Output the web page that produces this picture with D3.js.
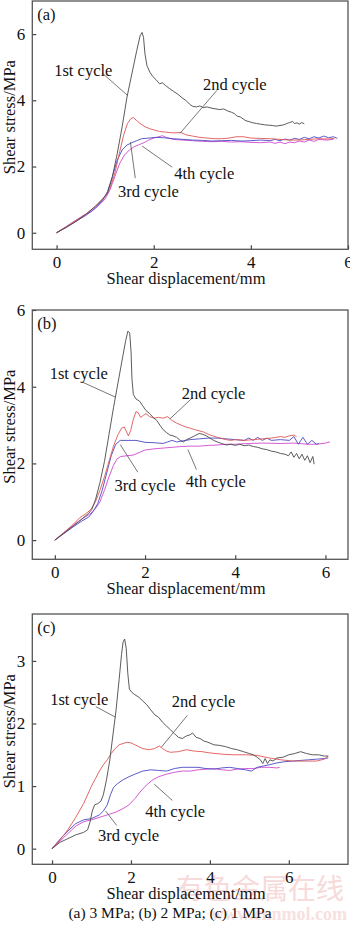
<!DOCTYPE html>
<html lang="en">
<head>
<meta charset="utf-8">
<title>Shear stress vs shear displacement</title>
<script src="https://cdn.jsdelivr.net/npm/d3@7"></script>
<style>
  body { margin: 0; background: #fff; }
  svg text { font-family: "Liberation Serif", "Times New Roman", serif; fill: #111; }
</style>
</head>
<body>
<script>
// ---- data: [displacement mm, stress MPa] ----
var cycleNames = ["1st cycle", "2nd cycle", "3rd cycle", "4th cycle"];
var cycleColors = ["#4a4a4a", "#e05555", "#4848c4", "#d048d0"];

// (a) 3 MPa
var a1 = [[0,0],[0.2,0.16],[0.4,0.34],[0.6,0.55],[0.8,0.8],[0.95,1.02],[1.05,1.2],[1.15,1.7],[1.25,2.4],[1.35,3.2],[1.45,4.1],[1.55,4.8],[1.65,5.5],[1.72,5.95],[1.76,6.05],[1.79,5.9],[1.82,5.4],[1.86,5.05],[1.92,4.85],[1.98,4.72],[2.05,4.62],[2.12,4.5],[2.18,4.53],[2.24,4.45],[2.32,4.36],[2.4,4.28],[2.5,4.18],[2.58,4.08],[2.66,4.0],[2.74,3.88],[2.8,3.82],[2.88,3.8],[2.95,3.83],[3.02,3.78],[3.1,3.8],[3.2,3.76],[3.28,3.74],[3.36,3.72],[3.44,3.74],[3.52,3.68],[3.6,3.64],[3.66,3.6],[3.72,3.52],[3.78,3.5],[3.84,3.44],[3.9,3.38],[3.96,3.36],[4.04,3.32],[4.12,3.3],[4.2,3.28],[4.28,3.26],[4.36,3.25],[4.44,3.24],[4.52,3.22],[4.6,3.24],[4.68,3.26],[4.74,3.3],[4.8,3.33],[4.86,3.36],[4.9,3.3],[4.95,3.32],[5.0,3.28],[5.05,3.33],[5.1,3.29]];
var a2 = [[0,0],[0.2,0.18],[0.4,0.37],[0.6,0.56],[0.8,0.8],[1.0,1.1],[1.1,1.35],[1.2,1.8],[1.3,2.45],[1.38,2.95],[1.46,3.3],[1.53,3.45],[1.58,3.48],[1.64,3.4],[1.72,3.3],[1.82,3.2],[1.92,3.14],[2.02,3.1],[2.12,3.06],[2.24,3.04],[2.36,3.02],[2.48,3.02],[2.56,3.03],[2.66,2.96],[2.8,2.92],[2.95,2.88],[3.1,2.86],[3.25,2.84],[3.4,2.84],[3.55,2.86],[3.7,2.9],[3.85,2.9],[4.0,2.86],[4.2,2.85],[4.4,2.84],[4.6,2.82],[4.8,2.8],[5.0,2.8],[5.2,2.82],[5.4,2.84],[5.6,2.83],[5.72,2.85]];
var a3 = [[0,0],[0.2,0.17],[0.4,0.35],[0.6,0.52],[0.8,0.75],[0.95,0.98],[1.05,1.25],[1.15,1.7],[1.25,2.2],[1.35,2.5],[1.45,2.65],[1.55,2.72],[1.65,2.78],[1.75,2.84],[1.9,2.86],[2.05,2.88],[2.2,2.87],[2.4,2.84],[2.6,2.82],[2.8,2.8],[3.0,2.79],[3.2,2.77],[3.4,2.78],[3.6,2.79],[3.8,2.77],[4.0,2.78],[4.2,2.8],[4.4,2.78],[4.5,2.82],[4.6,2.78],[4.7,2.83],[4.8,2.8],[4.9,2.85],[5.0,2.82],[5.1,2.88],[5.2,2.84],[5.3,2.9],[5.4,2.86],[5.5,2.92],[5.6,2.87],[5.7,2.9],[5.78,2.85]];
var a4 = [[0,0],[0.2,0.19],[0.4,0.38],[0.55,0.52],[0.7,0.62],[0.85,0.8],[1.0,1.02],[1.1,1.3],[1.2,1.7],[1.3,2.1],[1.4,2.35],[1.5,2.5],[1.6,2.6],[1.7,2.66],[1.8,2.72],[1.9,2.8],[2.0,2.86],[2.1,2.9],[2.18,2.93],[2.26,2.88],[2.4,2.82],[2.6,2.8],[2.8,2.78],[3.0,2.76],[3.2,2.75],[3.4,2.76],[3.6,2.74],[3.8,2.75],[4.0,2.73],[4.2,2.72],[4.4,2.74],[4.5,2.7],[4.6,2.74],[4.7,2.69],[4.8,2.74],[4.9,2.72],[5.0,2.77],[5.1,2.74],[5.2,2.8],[5.3,2.76],[5.4,2.82],[5.55,2.8],[5.7,2.82]];

// (b) 2 MPa
var b1 = [[0,0],[0.2,0.18],[0.4,0.36],[0.6,0.55],[0.75,0.7],[0.82,0.8],[0.9,1.05],[1.0,1.5],[1.1,2.05],[1.2,2.75],[1.3,3.45],[1.4,4.1],[1.5,4.75],[1.57,5.2],[1.62,5.45],[1.66,5.4],[1.69,4.9],[1.71,4.2],[1.74,3.8],[1.8,3.68],[1.88,3.62],[1.95,3.5],[2.02,3.38],[2.1,3.3],[2.18,3.2],[2.26,3.12],[2.34,2.98],[2.4,2.88],[2.48,2.8],[2.55,2.74],[2.62,2.72],[2.7,2.68],[2.78,2.6],[2.85,2.56],[2.92,2.62],[3.0,2.66],[3.1,2.72],[3.2,2.78],[3.28,2.76],[3.36,2.72],[3.44,2.66],[3.52,2.6],[3.6,2.56],[3.7,2.52],[3.8,2.48],[3.9,2.5],[4.0,2.47],[4.1,2.5],[4.2,2.46],[4.3,2.48],[4.4,2.44],[4.5,2.42],[4.6,2.38],[4.7,2.36],[4.8,2.32],[4.9,2.3],[5.0,2.26],[5.1,2.24],[5.18,2.2],[5.24,2.3],[5.3,2.16],[5.36,2.26],[5.42,2.12],[5.48,2.24],[5.54,2.08],[5.6,2.2],[5.66,2.02],[5.72,2.18],[5.75,1.98]];
var b2 = [[0,0],[0.2,0.2],[0.4,0.4],[0.55,0.58],[0.7,0.7],[0.8,0.8],[0.9,1.0],[1.0,1.3],[1.1,1.65],[1.2,2.05],[1.3,2.45],[1.4,2.75],[1.48,2.92],[1.54,2.95],[1.58,2.85],[1.63,2.72],[1.68,2.85],[1.74,3.15],[1.8,3.35],[1.85,3.32],[1.9,3.2],[1.96,3.25],[2.02,3.3],[2.1,3.22],[2.2,3.18],[2.3,3.2],[2.4,3.18],[2.5,3.22],[2.6,3.12],[2.7,3.05],[2.8,3.0],[2.9,2.95],[3.0,2.92],[3.1,2.88],[3.2,2.85],[3.3,2.82],[3.4,2.76],[3.5,2.72],[3.6,2.68],[3.7,2.65],[3.8,2.62],[3.9,2.6],[4.0,2.62],[4.2,2.6],[4.4,2.62],[4.6,2.64],[4.8,2.66],[5.0,2.7],[5.1,2.68],[5.2,2.72],[5.3,2.74],[5.36,2.7]];
var b3 = [[0,0],[0.2,0.17],[0.4,0.34],[0.6,0.5],[0.75,0.6],[0.85,0.75],[0.95,0.95],[1.05,1.3],[1.15,1.75],[1.25,2.2],[1.35,2.5],[1.45,2.6],[1.6,2.6],[1.8,2.6],[2.0,2.55],[2.2,2.54],[2.4,2.52],[2.5,2.56],[2.6,2.6],[2.7,2.56],[2.8,2.58],[3.0,2.62],[3.2,2.64],[3.4,2.66],[3.6,2.66],[3.8,2.64],[4.0,2.62],[4.2,2.6],[4.3,2.66],[4.4,2.6],[4.5,2.68],[4.6,2.6],[4.7,2.66],[4.8,2.6],[5.0,2.62],[5.2,2.6],[5.3,2.7],[5.4,2.5],[5.5,2.68],[5.6,2.5],[5.7,2.6],[5.8,2.5],[5.85,2.52]];
var b4 = [[0,0],[0.2,0.19],[0.4,0.38],[0.6,0.55],[0.8,0.7],[0.9,0.82],[1.0,1.0],[1.1,1.3],[1.2,1.65],[1.3,1.95],[1.38,2.12],[1.46,2.18],[1.6,2.2],[1.75,2.22],[1.9,2.3],[2.0,2.35],[2.2,2.38],[2.4,2.4],[2.6,2.42],[2.8,2.44],[3.0,2.45],[3.2,2.45],[3.4,2.47],[3.6,2.48],[3.8,2.5],[4.0,2.5],[4.3,2.52],[4.6,2.53],[5.0,2.52],[5.3,2.53],[5.6,2.5],[5.8,2.5],[6.0,2.53],[6.1,2.56]];

// (c) 1 MPa
var c1 = [[0,0],[0.2,0.1],[0.4,0.16],[0.6,0.22],[0.8,0.26],[0.9,0.3],[0.96,0.42],[1.02,0.6],[1.08,0.7],[1.16,0.72],[1.24,0.76],[1.3,0.86],[1.38,1.1],[1.46,1.4],[1.54,1.8],[1.62,2.2],[1.7,2.7],[1.76,3.1],[1.8,3.3],[1.84,3.35],[1.88,3.2],[1.92,2.8],[1.96,2.55],[2.02,2.5],[2.1,2.46],[2.2,2.42],[2.3,2.36],[2.4,2.3],[2.5,2.22],[2.6,2.14],[2.7,2.1],[2.8,2.02],[2.9,1.96],[3.0,1.9],[3.1,1.84],[3.2,1.78],[3.3,1.76],[3.4,1.8],[3.5,1.82],[3.56,1.85],[3.65,1.78],[3.75,1.76],[3.85,1.72],[3.95,1.7],[4.1,1.66],[4.25,1.65],[4.4,1.63],[4.55,1.6],[4.7,1.58],[4.85,1.55],[5.0,1.52],[5.1,1.5],[5.2,1.46],[5.28,1.42],[5.34,1.36],[5.4,1.44],[5.46,1.36],[5.52,1.42],[5.6,1.4],[5.7,1.45],[5.85,1.46],[6.0,1.5],[6.15,1.52],[6.3,1.55],[6.45,1.52],[6.6,1.5],[6.75,1.5],[6.9,1.48],[7.0,1.48]];
var c2 = [[0,0],[0.2,0.14],[0.4,0.3],[0.6,0.5],[0.8,0.72],[1.0,1.0],[1.1,1.12],[1.2,1.24],[1.3,1.34],[1.4,1.42],[1.5,1.52],[1.6,1.6],[1.7,1.66],[1.8,1.68],[1.9,1.7],[2.0,1.69],[2.1,1.66],[2.2,1.63],[2.3,1.6],[2.45,1.58],[2.6,1.6],[2.72,1.64],[2.8,1.6],[2.9,1.56],[3.0,1.54],[3.2,1.55],[3.4,1.58],[3.6,1.56],[3.8,1.55],[4.0,1.53],[4.3,1.51],[4.6,1.5],[4.9,1.5],[5.2,1.49],[5.5,1.45],[5.8,1.42],[6.1,1.4],[6.4,1.4],[6.7,1.4],[6.9,1.43],[7.0,1.48]];
var c3 = [[0,0],[0.2,0.15],[0.4,0.28],[0.6,0.4],[0.8,0.46],[1.0,0.48],[1.2,0.54],[1.3,0.6],[1.4,0.7],[1.48,0.86],[1.56,0.98],[1.66,1.04],[1.8,1.1],[1.95,1.15],[2.1,1.19],[2.3,1.24],[2.5,1.26],[2.7,1.25],[2.9,1.24],[3.1,1.28],[3.3,1.3],[3.5,1.3],[3.7,1.3],[3.9,1.28],[4.1,1.27],[4.3,1.29],[4.5,1.3],[4.7,1.28],[4.9,1.26],[5.05,1.24],[5.2,1.3],[5.35,1.32],[5.5,1.34],[5.7,1.37],[5.9,1.39],[6.1,1.4],[6.3,1.41],[6.5,1.42],[6.7,1.43],[6.9,1.44],[7.0,1.45]];
var c4 = [[0,0],[0.2,0.12],[0.4,0.24],[0.6,0.36],[0.8,0.43],[1.0,0.46],[1.2,0.5],[1.4,0.54],[1.6,0.58],[1.8,0.64],[1.95,0.7],[2.1,0.8],[2.25,0.92],[2.4,1.02],[2.55,1.1],[2.7,1.15],[2.9,1.19],[3.1,1.22],[3.3,1.24],[3.5,1.24],[3.7,1.26],[3.9,1.27],[4.1,1.28],[4.3,1.26],[4.5,1.25],[4.7,1.27],[4.9,1.28],[5.1,1.28],[5.3,1.3],[5.5,1.3],[5.7,1.29],[5.77,1.3]];

// axis domains and ticks per panel
var xDomains = [[-0.5, 6], [-0.5, 6.5], [-0.5, 7.5]];
var yDomains = [[-0.5, 7], [-0.5, 6], [-0.25, 3.75]];
var xTickVals = [0, 2, 4, 6];
var yTickVals = [[0, 2, 4, 6], [0, 2, 4, 6], [0, 1, 2, 3]];
var panelTags = ["(a)", "(b)", "(c)"];

// label position [x, y] and leader line [x1, y1, x2, y2] in data units
var labelPos = [
  [[0.55, 4.9], [3.67, 4.48], [1.89, 1.26], [3.04, 1.80]],
  [[0.53, 4.36], [3.52, 3.84], [2.0, 1.42], [3.57, 1.53]],
  [[0.69, 2.39], [3.84, 2.35], [1.94, 0.21], [3.12, 0.60]]
];
var leaders = [
  [[0.95, 4.81, 1.46, 4.15], [3.30, 4.30, 2.54, 3.0], [1.62, 1.65, 1.52, 2.74], [2.38, 1.98, 1.76, 2.62]],
  [[0.61, 4.12, 1.34, 3.73], [3.05, 3.71, 2.55, 3.16], [1.84, 1.77, 1.45, 2.49], [3.14, 1.84, 2.95, 2.36]],
  [[1.11, 2.27, 1.61, 2.10], [3.43, 2.13, 2.77, 1.62], [1.64, 0.37, 1.36, 0.6], [3.05, 0.77, 2.59, 1.03]]
];

var series = [[a1, a2, a3, a4], [b1, b2, b3, b4], [c1, c2, c3, c4]];

// pixel boxes of the three frames
var boxes = [
  {left: 32.3, right: 348, top: 1, bottom: 249.3},
  {left: 32.3, right: 348, top: 310, bottom: 559.3},
  {left: 32.3, right: 348, top: 614, bottom: 864.3}
];

var W = 350, H = 925;
var svg = d3.select("body").append("svg")
    .attr("width", W)
    .attr("height", H);

// faint watermark of the source site
svg.append("text")
    .attr("x", 344).attr("y", 899)
    .attr("text-anchor", "end")
    .style("font-family", "'Noto Sans CJK SC', sans-serif")
    .style("font-size", "28px")
    .style("fill", "#f7dada")
    .text("有色金属在线");
svg.append("text")
    .attr("x", 347).attr("y", 920)
    .attr("text-anchor", "end")
    .style("font-size", "18px")
    .style("font-weight", "bold")
    .style("fill", "#f7e0e0")
    .text("www.cnnmol.com");

boxes.forEach(function(b, i) {
    var x = d3.scaleLinear().domain(xDomains[i]).range([b.left, b.right]);
    var y = d3.scaleLinear().domain(yDomains[i]).range([b.bottom, b.top]);
    var g = svg.append("g");

    // axes, ticks pointing inward
    var xAxis = g.append("g")
        .attr("transform", "translate(0," + b.bottom + ")")
        .call(d3.axisBottom(x).tickValues(xTickVals).tickFormat(d3.format("d")).tickSize(-4).tickPadding(7));
    var yAxis = g.append("g")
        .attr("transform", "translate(" + b.left + ",0)")
        .call(d3.axisLeft(y).tickValues(yTickVals[i]).tickFormat(d3.format("d")).tickSize(-4).tickPadding(7));
    [xAxis, yAxis].forEach(function(ax) {
        ax.select(".domain").remove();
        ax.selectAll("line").attr("stroke", "#444").attr("stroke-width", 1.2);
        ax.selectAll("text").style("font-size", "17px").style("font-family", "'Liberation Serif', serif").attr("fill", "#111");
    });

    // frame
    g.append("rect")
        .attr("x", b.left).attr("y", b.top)
        .attr("width", b.right - b.left).attr("height", b.bottom - b.top)
        .attr("fill", "none").attr("stroke", "#555").attr("stroke-width", 1.3);

    // curves
    var line = d3.line().x(function(d) { return x(d[0]); }).y(function(d) { return y(d[1]); });
    series[i].slice().reverse().forEach(function(s, k) {
        var idx = 3 - k;
        g.append("path")
            .datum(s)
            .attr("d", line)
            .attr("fill", "none")
            .attr("stroke", cycleColors[idx])
            .attr("stroke-width", 0.9);
    });

    // leader lines
    leaders[i].forEach(function(l) {
        g.append("line")
            .attr("x1", x(l[0])).attr("y1", y(l[1]))
            .attr("x2", x(l[2])).attr("y2", y(l[3]))
            .attr("stroke", "#555").attr("stroke-width", 0.8);
    });

    // cycle labels
    labelPos[i].forEach(function(p, k) {
        g.append("text")
            .attr("x", x(p[0])).attr("y", y(p[1]))
            .attr("dy", "0.35em")
            .attr("text-anchor", "middle")
            .style("font-size", "16.5px")
            .text(cycleNames[k]);
    });

    // panel tag
    g.append("text")
        .attr("x", b.left + 5).attr("y", b.top + 19)
        .style("font-size", "16.5px")
        .text(panelTags[i]);

    // axis titles
    g.append("text")
        .attr("x", 186).attr("y", b.bottom + 35)
        .attr("text-anchor", "middle")
        .style("font-size", "16.5px")
        .text("Shear displacement/mm");
    g.append("text")
        .attr("transform", "translate(14.5," + ((b.top + b.bottom) / 2 - 8) + ") rotate(-90)")
        .attr("text-anchor", "middle")
        .style("font-size", "16.5px")
        .text("Shear stress/MPa");
});

// caption
svg.append("text")
    .attr("x", 170).attr("y", 918)
    .attr("text-anchor", "middle")
    .style("font-size", "15.5px")
    .text("(a) 3 MPa; (b) 2 MPa; (c) 1 MPa");
</script>
</body>
</html>
